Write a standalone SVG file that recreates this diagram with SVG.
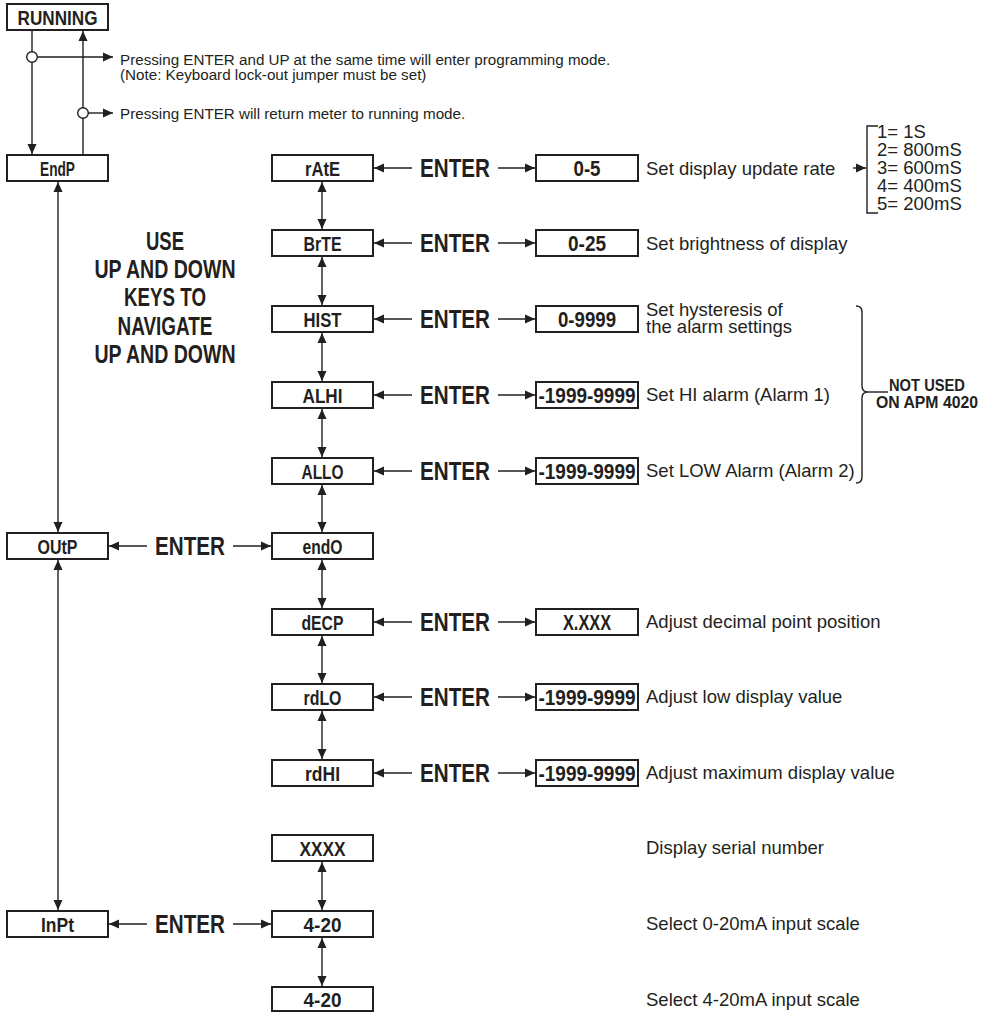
<svg xmlns="http://www.w3.org/2000/svg" width="992" height="1012" viewBox="0 0 992 1012">
<style>
.box{fill:#fff;stroke:#231f20;stroke-width:2}
.ln{fill:none;stroke:#231f20;stroke-width:1.4}
.lbl{font-family:"Liberation Sans",Arial,sans-serif;font-weight:bold;font-size:20px;fill:#231f20;text-anchor:middle}
.val{font-family:"Liberation Sans",Arial,sans-serif;font-weight:bold;font-size:22px;fill:#231f20;text-anchor:middle}
.ent{font-family:"Liberation Sans",Arial,sans-serif;font-weight:bold;font-size:26px;fill:#231f20;text-anchor:middle}
.big{font-family:"Liberation Sans",Arial,sans-serif;font-weight:bold;font-size:25px;fill:#231f20;text-anchor:middle}
.nu{font-family:"Liberation Sans",Arial,sans-serif;font-weight:bold;font-size:16.5px;fill:#231f20;text-anchor:middle}
.desc{font-family:"Liberation Sans",Arial,sans-serif;font-size:18.5px;fill:#231f20}
.top{font-family:"Liberation Sans",Arial,sans-serif;font-size:15.2px;fill:#231f20}
</style>
<defs>
<marker id="ah" viewBox="0 0 10 10" refX="10" refY="5" markerWidth="10" markerHeight="10" markerUnits="userSpaceOnUse" orient="auto-start-reverse"><path d="M0,0.5 L10,5 L0,9.5 z" fill="#231f20"/></marker>
</defs>

<g id="connectors">
<line class="ln" x1="32" y1="31" x2="32" y2="154" marker-end="url(#ah)"/>
<line class="ln" x1="83" y1="154" x2="83" y2="31" marker-end="url(#ah)"/>
<line class="ln" x1="37" y1="57" x2="113" y2="57" marker-end="url(#ah)"/>
<line class="ln" x1="88" y1="113" x2="113" y2="113" marker-end="url(#ah)"/>
<circle cx="32" cy="57" r="5.3" fill="#fff" stroke="#231f20" stroke-width="1.4"/>
<circle cx="83" cy="113" r="5.3" fill="#fff" stroke="#231f20" stroke-width="1.4"/>
<line class="ln" x1="58" y1="182" x2="58" y2="532" marker-start="url(#ah)" marker-end="url(#ah)"/>
<line class="ln" x1="58" y1="560" x2="58" y2="910" marker-start="url(#ah)" marker-end="url(#ah)"/>
<line class="ln" x1="322" y1="182" x2="322" y2="229" marker-start="url(#ah)" marker-end="url(#ah)"/>
<line class="ln" x1="322" y1="257" x2="322" y2="305" marker-start="url(#ah)" marker-end="url(#ah)"/>
<line class="ln" x1="322" y1="333" x2="322" y2="381" marker-start="url(#ah)" marker-end="url(#ah)"/>
<line class="ln" x1="322" y1="409" x2="322" y2="457" marker-start="url(#ah)" marker-end="url(#ah)"/>
<line class="ln" x1="322" y1="485" x2="322" y2="532" marker-start="url(#ah)" marker-end="url(#ah)"/>
<line class="ln" x1="322" y1="560" x2="322" y2="608" marker-start="url(#ah)" marker-end="url(#ah)"/>
<line class="ln" x1="322" y1="636" x2="322" y2="683" marker-start="url(#ah)" marker-end="url(#ah)"/>
<line class="ln" x1="322" y1="711" x2="322" y2="759" marker-start="url(#ah)" marker-end="url(#ah)"/>
<line class="ln" x1="322" y1="862" x2="322" y2="910" marker-start="url(#ah)" marker-end="url(#ah)"/>
<line class="ln" x1="322" y1="938" x2="322" y2="986" marker-start="url(#ah)" marker-end="url(#ah)"/>
<line class="ln" x1="412" y1="168" x2="374" y2="168" marker-end="url(#ah)"/>
<line class="ln" x1="498" y1="168" x2="535" y2="168" marker-end="url(#ah)"/>
<line class="ln" x1="412" y1="243" x2="374" y2="243" marker-end="url(#ah)"/>
<line class="ln" x1="498" y1="243" x2="535" y2="243" marker-end="url(#ah)"/>
<line class="ln" x1="412" y1="319" x2="374" y2="319" marker-end="url(#ah)"/>
<line class="ln" x1="498" y1="319" x2="535" y2="319" marker-end="url(#ah)"/>
<line class="ln" x1="412" y1="395" x2="374" y2="395" marker-end="url(#ah)"/>
<line class="ln" x1="498" y1="395" x2="535" y2="395" marker-end="url(#ah)"/>
<line class="ln" x1="412" y1="471" x2="374" y2="471" marker-end="url(#ah)"/>
<line class="ln" x1="498" y1="471" x2="535" y2="471" marker-end="url(#ah)"/>
<line class="ln" x1="412" y1="622" x2="374" y2="622" marker-end="url(#ah)"/>
<line class="ln" x1="498" y1="622" x2="535" y2="622" marker-end="url(#ah)"/>
<line class="ln" x1="412" y1="697" x2="374" y2="697" marker-end="url(#ah)"/>
<line class="ln" x1="498" y1="697" x2="535" y2="697" marker-end="url(#ah)"/>
<line class="ln" x1="412" y1="773" x2="374" y2="773" marker-end="url(#ah)"/>
<line class="ln" x1="498" y1="773" x2="535" y2="773" marker-end="url(#ah)"/>
<line class="ln" x1="147" y1="546" x2="109" y2="546" marker-end="url(#ah)"/>
<line class="ln" x1="233" y1="546" x2="271" y2="546" marker-end="url(#ah)"/>
<line class="ln" x1="147" y1="924" x2="109" y2="924" marker-end="url(#ah)"/>
<line class="ln" x1="233" y1="924" x2="271" y2="924" marker-end="url(#ah)"/>
<line class="ln" x1="853" y1="168" x2="866" y2="168" marker-end="url(#ah)"/>
<path class="ln" d="M878 126 L867 126 L867 213 L878 213" stroke-width="2"/>
<path class="ln" d="M856 306 Q862 306 862 312 L862 386 Q862 392 868 392 Q862 392 862 398 L862 477 Q862 483 856 483" stroke-width="1.6"/>
<line class="ln" x1="868" y1="392" x2="888" y2="392" stroke-width="1.6"/>
</g>

<g id="labels">
<text class="top" x="120" y="65">Pressing ENTER and UP at the same time will enter programming mode.</text>
<text class="top" x="120" y="80">(Note: Keyboard lock-out jumper must be set)</text>
<text class="top" x="120" y="119">Pressing ENTER will return meter to running mode.</text>
<text class="big" x="165" y="250" textLength="38" lengthAdjust="spacingAndGlyphs">USE</text>
<text class="big" x="165" y="278" textLength="141" lengthAdjust="spacingAndGlyphs">UP AND DOWN</text>
<text class="big" x="165" y="306" textLength="82" lengthAdjust="spacingAndGlyphs">KEYS TO</text>
<text class="big" x="165" y="335" textLength="95" lengthAdjust="spacingAndGlyphs">NAVIGATE</text>
<text class="big" x="165" y="363" textLength="141" lengthAdjust="spacingAndGlyphs">UP AND DOWN</text>
<text class="ent" x="455" y="177" textLength="70" lengthAdjust="spacingAndGlyphs">ENTER</text>
<text class="ent" x="455" y="252" textLength="70" lengthAdjust="spacingAndGlyphs">ENTER</text>
<text class="ent" x="455" y="328" textLength="70" lengthAdjust="spacingAndGlyphs">ENTER</text>
<text class="ent" x="455" y="404" textLength="70" lengthAdjust="spacingAndGlyphs">ENTER</text>
<text class="ent" x="455" y="480" textLength="70" lengthAdjust="spacingAndGlyphs">ENTER</text>
<text class="ent" x="190" y="555" textLength="70" lengthAdjust="spacingAndGlyphs">ENTER</text>
<text class="ent" x="455" y="631" textLength="70" lengthAdjust="spacingAndGlyphs">ENTER</text>
<text class="ent" x="455" y="706" textLength="70" lengthAdjust="spacingAndGlyphs">ENTER</text>
<text class="ent" x="455" y="782" textLength="70" lengthAdjust="spacingAndGlyphs">ENTER</text>
<text class="ent" x="190" y="933" textLength="70" lengthAdjust="spacingAndGlyphs">ENTER</text>
<text class="desc" x="646" y="175">Set display update rate</text>
<text class="desc" x="646" y="250">Set brightness of display</text>
<text class="desc" x="646" y="316">Set hysteresis of</text>
<text class="desc" x="646" y="333">the alarm settings</text>
<text class="desc" x="646" y="401">Set HI alarm (Alarm 1)</text>
<text class="desc" x="646" y="477">Set LOW Alarm (Alarm 2)</text>
<text class="desc" x="646" y="628">Adjust decimal point position</text>
<text class="desc" x="646" y="703">Adjust low display value</text>
<text class="desc" x="646" y="779">Adjust maximum display value</text>
<text class="desc" x="646" y="854">Display serial number</text>
<text class="desc" x="646" y="930">Select 0-20mA input scale</text>
<text class="desc" x="646" y="1006">Select 4-20mA input scale</text>
<text class="desc" x="877" y="138">1= 1S</text>
<text class="desc" x="877" y="156">2= 800mS</text>
<text class="desc" x="877" y="174">3= 600mS</text>
<text class="desc" x="877" y="192">4= 400mS</text>
<text class="desc" x="877" y="210">5= 200mS</text>
<text class="nu" x="927" y="391" textLength="76" lengthAdjust="spacingAndGlyphs">NOT USED</text>
<text class="nu" x="927" y="408" textLength="102" lengthAdjust="spacingAndGlyphs">ON APM 4020</text>
</g>

<g id="node-running"><rect class="box" x="7" y="4" width="101" height="26"/><text class="lbl" x="57.5" y="24.5" textLength="80" lengthAdjust="spacingAndGlyphs">RUNNING</text></g>
<g id="node-endp"><rect class="box" x="7" y="155" width="101" height="26"/><text class="lbl" x="57.5" y="175.5" textLength="35" lengthAdjust="spacingAndGlyphs">EndP</text></g>
<g id="node-outp"><rect class="box" x="7" y="533" width="101" height="26"/><text class="lbl" x="57.5" y="553.5" textLength="40" lengthAdjust="spacingAndGlyphs">OUtP</text></g>
<g id="node-inpt"><rect class="box" x="7" y="911" width="101" height="26"/><text class="lbl" x="57.5" y="931.5" textLength="33" lengthAdjust="spacingAndGlyphs">InPt</text></g>

<g id="node-rate"><rect class="box" x="272" y="155" width="101" height="26"/><text class="lbl" x="322.5" y="175.5" textLength="35" lengthAdjust="spacingAndGlyphs">rAtE</text></g>
<g id="node-brte"><rect class="box" x="272" y="230" width="101" height="26"/><text class="lbl" x="322.5" y="250.5" textLength="38" lengthAdjust="spacingAndGlyphs">BrTE</text></g>
<g id="node-hist"><rect class="box" x="272" y="306" width="101" height="26"/><text class="lbl" x="322.5" y="326.5" textLength="38" lengthAdjust="spacingAndGlyphs">HIST</text></g>
<g id="node-alhi"><rect class="box" x="272" y="382" width="101" height="26"/><text class="lbl" x="322.5" y="402.5" textLength="40" lengthAdjust="spacingAndGlyphs">ALHI</text></g>
<g id="node-allo"><rect class="box" x="272" y="458" width="101" height="26"/><text class="lbl" x="322.5" y="478.5" textLength="42" lengthAdjust="spacingAndGlyphs">ALLO</text></g>
<g id="node-endo"><rect class="box" x="272" y="533" width="101" height="26"/><text class="lbl" x="322.5" y="553.5" textLength="40" lengthAdjust="spacingAndGlyphs">endO</text></g>
<g id="node-decp"><rect class="box" x="272" y="609" width="101" height="26"/><text class="lbl" x="322.5" y="629.5" textLength="42" lengthAdjust="spacingAndGlyphs">dECP</text></g>
<g id="node-rdlo"><rect class="box" x="272" y="684" width="101" height="26"/><text class="lbl" x="322.5" y="704.5" textLength="38" lengthAdjust="spacingAndGlyphs">rdLO</text></g>
<g id="node-rdhi"><rect class="box" x="272" y="760" width="101" height="26"/><text class="lbl" x="322.5" y="780.5" textLength="35" lengthAdjust="spacingAndGlyphs">rdHI</text></g>
<g id="node-xxxx"><rect class="box" x="272" y="835" width="101" height="26"/><text class="lbl" x="322.5" y="855.5" textLength="46" lengthAdjust="spacingAndGlyphs">XXXX</text></g>
<g id="node-420a"><rect class="box" x="272" y="911" width="101" height="26"/><text class="lbl" x="322.5" y="931.5" textLength="38" lengthAdjust="spacingAndGlyphs">4-20</text></g>
<g id="node-420b"><rect class="box" x="272" y="987" width="101" height="24"/><text class="lbl" x="322.5" y="1006.5" textLength="38" lengthAdjust="spacingAndGlyphs">4-20</text></g>

<g id="value-rate"><rect class="box" x="536" y="155" width="102" height="26"/><text class="val" x="587" y="176" textLength="27" lengthAdjust="spacingAndGlyphs">0-5</text></g>
<g id="value-brte"><rect class="box" x="536" y="230" width="102" height="26"/><text class="val" x="587" y="251" textLength="38" lengthAdjust="spacingAndGlyphs">0-25</text></g>
<g id="value-hist"><rect class="box" x="536" y="306" width="102" height="26"/><text class="val" x="587" y="327" textLength="58" lengthAdjust="spacingAndGlyphs">0-9999</text></g>
<g id="value-alhi"><rect class="box" x="536" y="382" width="102" height="26"/><text class="val" x="587" y="403" textLength="97" lengthAdjust="spacingAndGlyphs">-1999-9999</text></g>
<g id="value-allo"><rect class="box" x="536" y="458" width="102" height="26"/><text class="val" x="587" y="479" textLength="97" lengthAdjust="spacingAndGlyphs">-1999-9999</text></g>
<g id="value-decp"><rect class="box" x="536" y="609" width="102" height="26"/><text class="val" x="587" y="630" textLength="48" lengthAdjust="spacingAndGlyphs">X.XXX</text></g>
<g id="value-rdlo"><rect class="box" x="536" y="684" width="102" height="26"/><text class="val" x="587" y="705" textLength="97" lengthAdjust="spacingAndGlyphs">-1999-9999</text></g>
<g id="value-rdhi"><rect class="box" x="536" y="760" width="102" height="26"/><text class="val" x="587" y="781" textLength="97" lengthAdjust="spacingAndGlyphs">-1999-9999</text></g>
</svg>
